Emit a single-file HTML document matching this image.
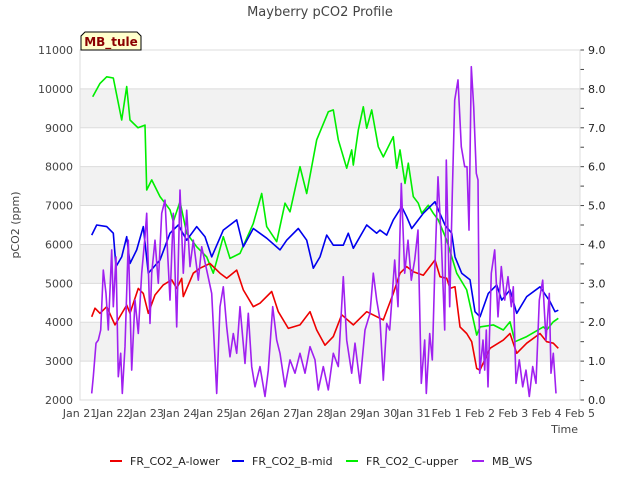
<!DOCTYPE html>
<html><head><meta charset="utf-8"><style>
body{margin:0;background:#fff;font-family:"DejaVu Sans","Liberation Sans",sans-serif;}
svg text{font-family:"DejaVu Sans","Liberation Sans",sans-serif;}
</style></head><body>
<svg id="c" width="640" height="480" xmlns="http://www.w3.org/2000/svg">
<rect width="640" height="480" fill="#fff"/>
<g id="bands"></g>
<g id="grid"></g>
<g id="axes"></g>
<g id="series"></g>
<text x="320" y="16" text-anchor="middle" font-size="13" fill="#444">Mayberry pCO2 Profile</text>
<text x="19" y="225" text-anchor="middle" font-size="11" fill="#444" transform="rotate(-90 19 225)">pCO2 (ppm)</text>
<text x="578" y="433" text-anchor="end" font-size="11" fill="#444">Time</text>
<g>
<path d="M81,50 L81,36 L85,32 L137,32 L141,36 L141,50 Z" fill="#ffffcc" stroke="#000" stroke-width="1"/>
<text x="111" y="46" text-anchor="middle" font-size="12" font-weight="bold" fill="#8b0000">MB_tule</text>
</g>
<g id="legend"></g>
</svg>
<script>
const yTicks=[2000,3000,4000,5000,6000,7000,8000,9000,10000,11000];
const y2Ticks=["0.0","1.0","2.0","3.0","4.0","5.0","6.0","7.0","8.0","9.0"];
const xTicks=["Jan 21","Jan 22","Jan 23","Jan 24","Jan 25","Jan 26","Jan 27","Jan 28","Jan 29","Jan 30","Jan 31","Feb 1","Feb 2","Feb 3","Feb 4","Feb 5"];
const greenT=[0.38,0.6,0.8,1.0,1.25,1.4,1.5,1.74,1.95,2.0,2.15,2.4,2.7,2.8,3.0,3.2,3.5,3.8,4.0,4.3,4.5,4.8,5.2,5.45,5.6,5.9,6.15,6.3,6.6,6.8,7.1,7.45,7.6,7.75,8.0,8.15,8.2,8.35,8.5,8.6,8.75,8.95,9.1,9.3,9.4,9.5,9.6,9.75,9.85,10.0,10.15,10.25,10.45,10.6,10.75,11.0,11.3,11.6,11.9,12.0,12.4,12.7,12.9,13.05,13.4,13.9,14.0,14.2,14.35];
const greenV=[9800,10140,10310,10280,9200,10060,9200,9000,9070,7400,7660,7230,6890,6590,7100,6290,5940,5680,5260,6200,5640,5770,6540,7310,6460,6070,7060,6840,8000,7310,8690,9410,9460,8690,7960,8430,8040,8940,9540,8990,9460,8510,8250,8600,8770,7960,8430,7570,8090,7230,7060,6800,7010,6800,6630,6110,5260,4830,3670,3880,3930,3800,4010,3500,3630,3880,3800,4010,4100];
const blueT=[0.35,0.5,0.8,1.0,1.08,1.25,1.4,1.5,1.7,1.9,2.05,2.4,2.7,2.95,3.2,3.5,3.75,3.95,4.3,4.7,4.9,5.2,5.6,6.0,6.2,6.55,6.8,7.0,7.2,7.4,7.6,7.9,8.05,8.2,8.6,8.9,9.0,9.2,9.4,9.65,9.8,9.95,10.15,10.3,10.65,10.75,10.95,11.15,11.25,11.45,11.7,11.85,12.0,12.25,12.5,12.65,12.9,13.1,13.4,13.8,14.1,14.25,14.35];
const blueV=[6240,6500,6460,6290,5430,5680,6200,5510,5860,6460,5260,5600,6290,6500,6110,6460,6200,5680,6370,6630,5940,6410,6160,5860,6110,6410,6110,5390,5680,6240,5980,5980,6290,5900,6500,6290,6370,6240,6630,6970,6710,6410,6630,6800,7100,6890,6500,6290,5680,5260,5090,4270,4140,4740,4960,4570,4830,4230,4660,4910,4530,4270,4310];
const redT=[0.35,0.45,0.6,0.8,1.05,1.4,1.5,1.75,1.9,2.05,2.25,2.5,2.75,2.9,3.05,3.1,3.4,3.6,3.9,4.2,4.4,4.7,4.9,5.2,5.4,5.75,5.95,6.25,6.6,6.9,7.1,7.35,7.6,7.85,8.2,8.6,9.0,9.1,9.4,9.6,9.8,10.0,10.3,10.65,10.8,11.0,11.1,11.25,11.4,11.6,11.75,11.9,12.0,12.3,12.7,12.9,13.1,13.4,13.8,14.0,14.2,14.35];
const redV=[4140,4360,4230,4400,3930,4440,4230,4870,4740,4230,4700,4960,5090,4870,5130,4660,5260,5390,5510,5260,5130,5340,4830,4400,4490,4790,4270,3840,3930,4270,3800,3410,3630,4190,3930,4270,4100,4060,4740,5260,5430,5300,5210,5600,5170,5130,4870,4910,3880,3710,3500,2810,2770,3330,3540,3710,3200,3460,3710,3500,3460,3330];
const wsT=[0.35,0.4,0.48,0.55,0.62,0.7,0.78,0.85,0.95,1.0,1.08,1.15,1.22,1.27,1.35,1.45,1.55,1.65,1.75,1.85,1.95,2.0,2.1,2.15,2.25,2.35,2.45,2.55,2.62,2.7,2.8,2.9,3.0,3.1,3.2,3.3,3.4,3.55,3.65,3.8,3.95,4.1,4.2,4.3,4.4,4.5,4.6,4.7,4.8,4.95,5.05,5.15,5.25,5.4,5.55,5.65,5.78,5.9,6.0,6.15,6.3,6.45,6.6,6.75,6.9,7.05,7.15,7.3,7.45,7.6,7.75,7.9,8.0,8.15,8.25,8.4,8.55,8.7,8.8,8.9,9.0,9.1,9.2,9.29,9.44,9.54,9.64,9.74,9.84,9.94,10.04,10.14,10.24,10.34,10.39,10.49,10.57,10.64,10.74,10.84,10.94,10.99,11.09,11.17,11.24,11.34,11.44,11.54,11.61,11.67,11.74,11.81,11.89,11.94,11.99,12.09,12.14,12.19,12.24,12.34,12.44,12.54,12.64,12.74,12.84,12.94,13.0,13.08,13.18,13.28,13.38,13.48,13.58,13.68,13.78,13.88,13.98,14.08,14.13,14.2,14.28];
const wsV=[0.17,0.6,1.46,1.54,1.8,3.34,2.74,1.8,3.86,2.4,3.68,0.6,1.2,0.17,1.37,4.11,0.77,2.57,1.71,3.26,4.2,4.8,1.97,3.26,4.11,3.0,4.8,5.14,3.94,2.57,4.8,1.88,5.4,3.26,4.88,3.43,4.11,3.08,3.94,3.34,2.74,0.17,2.4,2.91,1.88,1.11,1.71,1.2,2.4,0.94,2.23,0.86,0.34,0.86,0.09,0.77,2.4,1.54,1.2,0.34,1.03,0.69,1.2,0.69,1.37,1.03,0.26,0.86,0.26,1.2,0.86,3.17,1.54,0.69,1.46,0.43,1.8,2.23,3.26,2.57,2.06,0.51,1.97,1.8,3.6,2.4,5.57,3.26,4.11,3.08,3.6,4.37,0.43,1.54,0.17,1.71,1.03,3.26,5.74,4.11,1.8,6.17,2.4,5.31,7.71,8.23,6.51,6.0,6.0,4.37,8.57,7.54,5.83,5.66,0.69,1.54,0.77,1.8,0.34,3.26,3.86,2.14,3.43,2.57,3.17,2.4,2.91,0.43,1.03,0.34,0.77,0.09,0.86,0.43,2.57,3.08,1.54,2.74,0.69,1.2,0.17];

const L=80,R=580,T=50,B=400;
const X=d=>L+d*(R-L)/15;
const Y=v=>B-(v-2000)*(B-T)/9000;
const Y2=v=>B-v*(B-T)/9;
const NS="http://www.w3.org/2000/svg";
function mk(tag,attrs,parent){const e=document.createElementNS(NS,tag);for(const k in attrs)e.setAttribute(k,attrs[k]);parent.appendChild(e);return e;}
const bands=document.getElementById('bands'),grid=document.getElementById('grid'),axes=document.getElementById('axes'),series=document.getElementById('series'),legend=document.getElementById('legend');
for(let i=0;i<yTicks.length-1;i++){
  if(i%2===1){const b=mk('rect',{x:L,y:Y(yTicks[i+1]),width:R-L,height:Y(yTicks[i])-Y(yTicks[i+1]),fill:'#f2f2f2'},bands);
  
  }
}
yTicks.forEach((v,i)=>{
  const g=mk('line',{x1:L,x2:R,y1:Y(v),y2:Y(v),stroke:'#dcdcdc','stroke-width':1},grid);
  
  
  const t=mk('text',{x:L-7,y:Y(v)+4,'text-anchor':'end','font-size':11,fill:'#444'},axes);
  t.textContent=v;
  
  
});
y2Ticks.forEach((s,i)=>{
  const v=parseFloat(s);
  const t=mk('text',{x:R+8,y:Y2(v)+4,'font-size':11,fill:'#222'},axes);
  t.textContent=s;
  
  
  mk('line',{x1:R,x2:R+4,y1:Y2(v),y2:Y2(v),stroke:'#444'},axes);
  if(i<y2Ticks.length-1)mk('line',{x1:R,x2:R+4,y1:Y2(v+0.5),y2:Y2(v+0.5),stroke:'#444'},axes);
});
xTicks.forEach((s,i)=>{
  const t=mk('text',{x:X(i),y:417,'text-anchor':'middle','font-size':11,fill:'#444'},axes);
  t.textContent=s;
  
  
});
const frame=mk('rect',{x:L,y:T,width:R-L,height:B-T,fill:'none',stroke:'#dcdcdc'},axes);


function line(ts,vs,yf,color,name){
  const p=mk('polyline',{points:ts.map((t,i)=>X(t).toFixed(1)+','+yf(vs[i]).toFixed(1)).join(' '),fill:'none',stroke:color,'stroke-width':1.6,'stroke-linejoin':'round'},series);
  
  
}
line(greenT,greenV,Y,'#00ee00','series-c-upper');
line(blueT,blueV,Y,'#0000ee','series-b-mid');
line(redT,redV,Y,'#ee0000','series-a-lower');
line(wsT,wsV,Y2,'#a020f0','series-mb-ws');
const leg=[['FR_CO2_A-lower','#ee0000',110],['FR_CO2_B-mid','#0000ee',232],['FR_CO2_C-upper','#00ee00',346],['MB_WS','#a020f0',472]];
leg.forEach(([n,c,x])=>{
  const g=mk('g',{},legend);
  
  
  mk('line',{x1:x,x2:x+12,y1:461,y2:461,stroke:c,'stroke-width':2},g);
  const t=mk('text',{x:x+20,y:465,'font-size':11,fill:'#222'},g);
  t.textContent=n;
});
</script>
</body></html>
